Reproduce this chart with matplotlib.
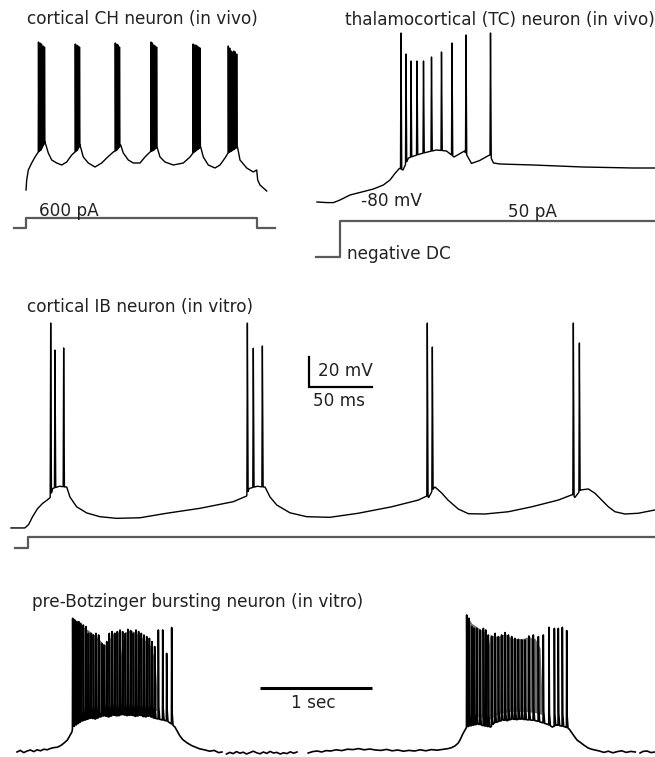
import numpy as np
import matplotlib
matplotlib.use("Agg")
import matplotlib.pyplot as plt

plt.rcParams['font.family'] = ['DejaVu Sans']
plt.rcParams['font.size'] = 12.2

W, H = 655, 757
TXT = '#222222'
STEP = '#5a5a5a'
GRAY = '#6f6f6f'

# ---------------- Panel 1: cortical CH neuron (in vivo)  [ms, mV, pA] ----------------
ch_base_t = [0, 1.4, 4.6, 11.4, 18, 24.6, 30, 38, 44.6, 51.4, 61.4, 71.4, 81.4, 91.4, 98,
             103, 108, 114.6, 124.6, 138, 151.4, 161.4, 174.6, 182, 189.4, 194.6, 204.6,
             214.6, 228, 238, 248, 256, 262, 268, 278, 294.6, 314.6, 328, 334, 342, 349.4,
             354.6, 364.6, 378, 388, 398, 404, 414, 423, 428, 441.4, 454.6, 461.4, 463.4,
             468, 474.6, 481.4]
ch_base_v = [-70, -65, -60, -56.5, -53.5, -51, -50, -46, -51.5, -55, -56.5, -57.5, -56, -52.5,
             -51, -50, -47.5, -53.5, -56.5, -58.5, -56.5, -54, -51, -50, -47.5, -51.5, -55,
             -56.5, -56.5, -53.5, -51, -50, -48.5, -53.5, -56, -57.5, -56.5, -53.5, -51.5,
             -50, -48.5, -53.5, -57.5, -59, -57.5, -54, -51.5, -50, -48.5, -55, -59, -61,
             -60, -65, -67.5, -69, -70.5]
ch_spike_t = [25, 28, 31, 34, 37,
              98.6, 101.4, 104.2, 107,
              178.6, 181.4, 184.2, 187,
              250, 252.8, 255.6, 258.4, 261.2,
              334, 336.8, 339.6, 342.4, 345.2, 348,
              404.6, 407.4, 410.2, 413, 415.8, 418.6, 421.4]
ch_spike_v = [4, 3.5, 3, 2, 1.5,
              3, 2.5, 2, 1.5,
              3.5, 3, 2.5, 1.5,
              4, 3.5, 2.5, 2, 1.5,
              3, 2.5, 2.5, 2, 1.5, 1,
              2, 1, -0.5, -1, -0.5, -1, -2]
ch_step_t = [-24, 0, 0, 461.4, 461.4, 498]
ch_step_i = [0, 0, 600, 600, 0, 0]

# ---------------- Panel 2: thalamocortical (TC) neuron (in vivo) ----------------
tc_base_t = [0, 20, 33, 46, 66, 92.7, 112.7, 132.7, 146, 156, 164.7, 172, 183, 194, 206,
             221, 239, 259, 274, 295, 309, 325, 343, 346, 350, 353, 366, 432, 532, 632, 676]
tc_base_v = [-80, -80.3, -80.3, -79, -76.5, -74.8, -73.5, -71.5, -69, -65.7, -63.2, -64,
             -58, -57, -56, -55, -54, -54.5, -57.5, -54.5, -60.7, -59.3, -56.8, -56.5, -59,
             -60.5, -61, -61.5, -62.5, -63, -63]
tc_spike_t = [168, 178, 188, 200, 213, 229, 249, 270, 298, 347]
tc_spike_v = [4.5, -6, -9.5, -9.5, -9.5, -7.5, -5, -0.5, 3.5, 4.5]
tc_step_t = [-2, 45, 45, 676]
tc_step_i = [0, 0, 50, 50]

# ---------------- Panel 3: cortical IB neuron (in vitro) ----------------
ib_base_t = [0, 11, 14, 17, 21, 25, 29, 31.2, 33, 38.5, 43, 44.2, 46.8, 52.1, 60.1, 70.6,
             83.9, 102.4, 123.6, 150, 176.4, 187, 189, 195.5, 200, 201.6, 205.6, 210.9,
             221.4, 234.7, 253.2, 275.6, 302.1, 323.3, 330, 331.5, 335.3, 336.5, 341.8,
             346.8, 355, 363, 376.2, 394.7, 413.3, 434.4, 445.8, 447.5, 452, 458.2, 463.5,
             468.8, 474.1, 479.4, 487.3, 497.9, 511.1]
ib_base_v = [-72.3, -72.3, -70, -65, -59.5, -56, -53.5, -52, -46, -44.5, -45, -45, -51.7,
             -58.2, -62.3, -64.8, -65.9, -65.5, -62.5, -59.2, -54.8, -51, -46, -44.5, -45,
             -45, -51.7, -57, -62.2, -64.8, -65.2, -62.5, -58.2, -53.7, -51, -52, -46, -45,
             -49, -53.7, -59.7, -62.8, -63, -61.5, -58.2, -53.7, -50, -52, -47, -46.3,
             -49.2, -53.7, -58.2, -61.5, -63, -62.5, -60.3]
ib_spike_t = [31.5, 34.9, 41.8, 187.6, 192.3, 199.5, 330.4, 334.4, 446.3, 451.1]
ib_spike_v = [64.3, 46.3, 47.7, 64.3, 47.5, 49, 64.3, 48.3, 64.3, 51]
ib_step_t = [3.2, 13.5, 13.5, 511.1]
ib_step_i = [0, 0, 1, 1]

# ---------------- Panel 4: pre-Botzinger bursting neuron (in vitro)  [s, mV] ----------------
pb_seg_a_t = [0.00, 0.03, 0.06, 0.09, 0.12, 0.15, 0.18, 0.21, 0.24, 0.27, 0.30, 0.33, 0.36,
              0.39, 0.42, 0.45, 0.47, 0.49,
              0.50, 0.54, 0.58, 0.62, 0.66, 0.70, 0.74, 0.78, 0.82, 0.86, 0.90, 0.94, 0.98,
              1.02, 1.06, 1.10, 1.14, 1.18, 1.22, 1.26, 1.30, 1.34, 1.38,
              1.41, 1.43, 1.455, 1.48, 1.52, 1.56, 1.59, 1.63, 1.68, 1.72, 1.76, 1.80, 1.83]
pb_seg_a_v = [-60.0, -59.2, -60.3, -59.5, -59.0, -59.8, -58.9, -59.4, -58.6, -58.9, -58.2,
              -57.8, -57.6, -56.8, -55.5, -54.0, -52.0, -50.0,
              -47.5, -46.0, -44.5, -43.8, -43.0, -43.5, -42.5, -41.8, -42.5, -41.5, -42.0,
              -41.2, -41.8, -41.5, -42.2, -41.6, -42.5, -42.0, -43.0, -43.5, -44.0, -44.5,
              -46.0,
              -47.5, -49.5, -52.0, -53.8, -55.5, -56.8, -57.5, -58.4, -59.0, -59.6, -59.2,
              -60.3, -60.0]
pb_seg_b_t = [1.87, 1.90, 1.93, 1.96, 1.99, 2.02, 2.05, 2.08, 2.11, 2.14, 2.17, 2.20, 2.23,
              2.26, 2.29, 2.32, 2.35, 2.38, 2.41, 2.44, 2.47, 2.50]
pb_seg_b_v = [-61.0, -60.2, -60.8, -59.8, -60.6, -60.1, -61.0, -60.3, -59.6, -60.4, -60.9,
              -60.0, -60.7, -59.7, -60.5, -60.2, -61.0, -60.4, -60.8, -59.9, -60.6, -60.0]
pb_seg_c_t = [2.60, 2.64, 2.68, 2.72, 2.76, 2.80, 2.85, 2.90, 2.95, 3.00, 3.05, 3.10, 3.15,
              3.20, 3.25, 3.30, 3.35, 3.40, 3.45, 3.50, 3.55, 3.60, 3.65, 3.70, 3.75, 3.80,
              3.85, 3.88, 3.91, 3.94, 3.96, 3.98, 4.00, 4.015,
              4.04, 4.08, 4.12, 4.16, 4.20, 4.23, 4.26, 4.30, 4.34, 4.38, 4.42, 4.46, 4.50,
              4.54, 4.58, 4.62, 4.66, 4.70, 4.74, 4.78, 4.82, 4.86, 4.90, 4.93,
              4.955, 4.98, 5.00, 5.03, 5.06, 5.10, 5.13, 5.16, 5.20, 5.24, 5.28, 5.32, 5.36,
              5.40, 5.44, 5.48, 5.52]
pb_seg_c_v = [-60.5, -59.8, -59.5, -60.0, -59.3, -59.5, -58.9, -59.3, -58.6, -58.8, -58.3,
              -58.9, -58.5, -59.0, -59.2, -58.7, -59.4, -59.0, -59.6, -59.2, -59.5, -58.9,
              -59.4, -58.8, -59.1, -58.7, -58.3, -57.8, -57.0, -55.5, -53.5, -51.0, -49.0,
              -47.5,
              -47.0, -46.5, -46.0, -46.8, -47.2, -47.5, -45.5, -44.8, -44.0, -44.3, -43.5,
              -43.8, -43.5, -43.8, -44.0, -44.2, -44.8, -45.5, -46.2, -47.5, -46.5, -47.0,
              -47.5, -48.5,
              -50.5, -52.5, -54.0, -55.2, -56.5, -58.0, -58.6, -59.0, -59.5, -60.2, -59.6,
              -60.4, -59.8, -59.4, -60.2, -59.7, -60.0]
pb_seg_d_t = [5.563, 5.59, 5.625, 5.66, 5.696]
pb_seg_d_v = [-60.5, -59.7, -59.5, -60.3, -60.0]
pb_burst1_t = [0.497, 0.515, 0.533, 0.551, 0.568, 0.592, 0.616, 0.637, 0.658, 0.682, 0.705,
               0.729, 0.756, 0.777, 0.801, 0.824, 0.848, 0.872, 0.896, 0.920, 0.943, 0.967,
               0.991, 1.015, 1.039, 1.063, 1.086, 1.110, 1.134, 1.158, 1.182, 1.205, 1.229,
               1.262, 1.301, 1.336, 1.381]
pb_burst1_v = [6.8, 6.0, 5.2, 5.2, 4.3, 3.5, 2.7, -0.7, -0.7, -1.5, -0.7, -1.5, -5.7, -6.5,
               -4.8, -0.7, 0.2, -0.7, 0.2, 1.0, 0.2, -0.7, 1.3, 0.7, -0.7, 1.0, 0.2, -0.7,
               -1.5, -2.3, -3.2, -4.8, -7.3, 1.0, 1.0, -10.7, 2.2]
pb_burst2_t = [4.015, 4.036, 4.060, 4.080, 4.104, 4.134, 4.164, 4.185, 4.208, 4.238, 4.268,
               4.298, 4.327, 4.357, 4.387, 4.417, 4.446, 4.476, 4.506, 4.536, 4.571, 4.610,
               4.655, 4.699, 4.750, 4.798, 4.833, 4.869, 4.908]
pb_burst2_v = [8.5, 6.8, 2.7, 1.8, 1.8, 1.0, 1.8, 1.0, -1.5, -2.3, -0.7, -2.3, -1.5, -0.3,
               -1.5, -2.3, -3.2, -3.7, -4.0, -4.0, -2.0, -1.5, -2.3, -1.5, 2.3, 1.8, 1.8,
               2.3, 0.7]
# envelope of the unresolved (grey) high-frequency firing inside each burst
pb_gray1_t = [0.500, 0.536, 0.5625, 0.607, 0.634, 0.670, 0.705, 0.741, 0.777, 0.8125, 0.839,
              0.875, 0.911, 0.9375, 0.964, 1.009, 1.054, 1.098, 1.143, 1.1875, 1.232, 1.25]
pb_gray1_v = [7.5, 5.0, 4.0, 2.0, 1.0, -0.5, -2.0, -4.0, -6.5, -5.5, -1.5, 0.0, 0.0, -14.0,
              0.0, 1.0, 0.0, -2.0, -4.0, -6.5, -14.0, -30.0]
pb_gray2_t = [4.015, 4.060, 4.104, 4.149, 4.175, 4.200, 4.225, 4.238, 4.298, 4.357, 4.417,
              4.476, 4.521, 4.565, 4.625, 4.670, 4.685]
pb_gray2_v = [8.5, 4.3, 2.7, 1.0, 0.0, -10.0, -1.0, -1.5, -2.3, -0.7, -3.2, -3.2, -3.2,
              -2.3, -3.2, -8.0, -30.0]

# ---------------- layout helpers ----------------
fig = plt.figure(figsize=(W / 100, H / 100), dpi=100)


def panel(box, xmap, ymap):
    x0, x1, y0, y1 = box
    ax = fig.add_axes([x0 / W, 1 - y1 / H, (x1 - x0) / W, (y1 - y0) / H])

    def lin(p, m):
        return m[1] + (p - m[0]) * (m[3] - m[1]) / (m[2] - m[0])
    ax.set_xlim(lin(x0, xmap), lin(x1, xmap))
    ax.set_ylim(lin(y1, ymap), lin(y0, ymap))
    ax.set_axis_off()
    ax.patch.set_visible(False)
    return ax


def trace(base_t, base_v, spk_t=(), spk_v=(), pre=0.5, post=0.8, shoulder=0.0):
    bt = np.asarray(base_t, float)
    bv = np.asarray(base_v, float)
    st = np.asarray(spk_t, float)
    sv = np.asarray(spk_v, float)
    end = 3 * post if shoulder else post
    keep = np.ones(bt.size, bool)
    for s in st:
        keep &= ~((bt > s - pre) & (bt < s + end))
    ts, vs = [bt[keep]], [bv[keep]]
    if st.size:
        ts += [st - pre, st]
        vs += [np.interp(st - pre, bt, bv), sv]
        if shoulder:
            ts += [st + post, st + 3 * post]
            vs += [np.interp(st + post, bt, bv) + shoulder, np.interp(st + 3 * post, bt, bv)]
        else:
            ts += [st + post]
            vs += [np.interp(st + post, bt, bv)]
    t = np.concatenate(ts)
    v = np.concatenate(vs)
    o = np.argsort(t, kind='stable')
    return t[o], v[o]


def txt(ax, x, y, s, ha='left'):
    ax.text(x, y, s, ha=ha, va='center', color=TXT, clip_on=False)


# ---------------- Panel 1 ----------------
a1 = panel((0, 300, 0, 200), (26, 0, 276, 500), (190, -70, 170, -60))
t, v = trace(ch_base_t, ch_base_v, ch_spike_t, ch_spike_v, pre=0.5, post=0.8)
a1.plot(t, v, color='k', lw=1.0, clip_on=False)
txt(a1, 2, 15.5, 'cortical CH neuron (in vivo)')
a1i = panel((0, 300, 200, 240), (26, 0, 276, 500), (228, 0, 218, 600))
a1i.plot(ch_step_t, ch_step_i, color=STEP, lw=1.6, clip_on=False)
txt(a1i, 26.6, 1050, '600 pA')

# ---------------- Panel 2 ----------------
a2 = panel((300, 655, 0, 210), (317, 0, 567, 500), (202, -80, 182, -70))
t, v = trace(tc_base_t, tc_base_v, tc_spike_t, tc_spike_v, pre=1.0, post=1.5)
a2.plot(t, v, color='k', lw=1.0, clip_on=False)
txt(a2, 56, 11, 'thalamocortical (TC) neuron (in vivo)')
txt(a2, 88, -79.5, '-80 mV')
a2i = panel((300, 655, 205, 270), (317, 0, 567, 500), (257, 0, 221, 50))
a2i.plot(tc_step_t, tc_step_i, color=STEP, lw=1.6, clip_on=False)
txt(a2i, 382, 63, '50 pA')
txt(a2i, 60, 4, 'negative DC')

# ---------------- Panel 3 ----------------
a3 = panel((0, 655, 290, 530), (11, 0, 641, 500), (517, -65, 367, 35))
t, v = trace(ib_base_t, ib_base_v, ib_spike_t, ib_spike_v, pre=0.4, post=0.6)
a3.plot(t, v, color='k', lw=1.0, clip_on=False)
txt(a3, 12.7, 75, 'cortical IB neuron (in vitro)')
a3.plot([236.5, 236.5, 286.5], [41.7, 21.7, 21.7], color='k', lw=1.6,
        solid_joinstyle='miter', clip_on=False)
txt(a3, 243.7, 32.3, '20 mV')
txt(a3, 260.3, 12.3, '50 ms', ha='center')
a3i = panel((0, 655, 530, 560), (11, 0, 641, 500), (548, 0, 537, 1))
a3i.plot(ib_step_t, ib_step_i, color=STEP, lw=1.6, clip_on=False)

# ---------------- Panel 4 ----------------
a4 = panel((0, 655, 590, 757), (17, 0, 129, 1), (752, -60, 692, -30))
for gt, gv, bt, bv in [(pb_gray1_t, pb_gray1_v, pb_seg_a_t, pb_seg_a_v),
                       (pb_gray2_t, pb_gray2_v, pb_seg_c_t, pb_seg_c_v)]:
    gt = np.asarray(gt, float)
    low = np.interp(gt, bt, bv) + 4
    a4.fill_between(gt, low, np.maximum(np.asarray(gv, float), low), color=GRAY,
                    lw=0, zorder=1)
segments = [(pb_seg_a_t, pb_seg_a_v, pb_burst1_t, pb_burst1_v),
            (pb_seg_b_t, pb_seg_b_v, [], []),
            (pb_seg_c_t, pb_seg_c_v, pb_burst2_t, pb_burst2_v),
            (pb_seg_d_t, pb_seg_d_v, [], [])]
for bt, bv, st, sv in segments:
    t, v = trace(bt, bv, st, sv, pre=0.002, post=0.004, shoulder=6.0)
    a4.plot(t, v, color='k', lw=1.2, clip_on=False, zorder=2)
txt(a4, 0.134, 15, 'pre-Botzinger bursting neuron (in vitro)')
a4.plot([2.17, 3.17], [-28, -28], color='k', lw=2.2, solid_capstyle='butt', clip_on=False)
txt(a4, 2.643, -35.5, '1 sec', ha='center')

fig.savefig('out.png', dpi=100)
